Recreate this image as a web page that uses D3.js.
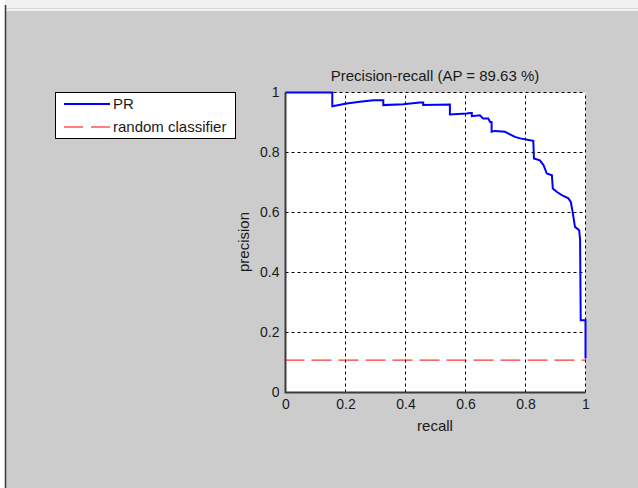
<!DOCTYPE html>
<html lang="en">
<head>
    <meta charset="UTF-8">
    <title>Precision-recall</title>
    <script src="https://cdn.jsdelivr.net/npm/d3@7"></script>
    <style>
        body{
            margin:0;
            background:#fff;
        }
        svg{
            display:block;
            font-family:"Liberation Sans", Arial, sans-serif;
        }
        .tick text{
            font-size:14px;
            fill:#1a1a1a;
        }
    </style>
</head>
<body>

<script>
    // data
    var recall = [0, 0.156, 0.156, 0.204, 0.248, 0.293, 0.326, 0.326, 0.393, 0.448, 0.459, 0.459,
                  0.548, 0.548, 0.604, 0.615, 0.621, 0.621, 0.648, 0.659, 0.676, 0.682, 0.687, 0.687,
                  0.698, 0.732, 0.753, 0.765, 0.782, 0.815, 0.826, 0.828, 0.848, 0.86, 0.871, 0.888,
                  0.891, 0.904, 0.921, 0.943, 0.951, 0.957, 0.965, 0.979, 0.982, 0.984, 1, 1];
    var precision = [1, 1, 0.954, 0.963, 0.969, 0.974, 0.974, 0.958, 0.961, 0.967, 0.967, 0.958,
                     0.96, 0.927, 0.93, 0.932, 0.932, 0.921, 0.924, 0.913, 0.913, 0.902, 0.902, 0.869,
                     0.872, 0.869, 0.858, 0.852, 0.847, 0.841, 0.839, 0.78, 0.774, 0.758, 0.73, 0.724,
                     0.68, 0.669, 0.658, 0.647, 0.635, 0.602, 0.552, 0.541, 0.508, 0.241, 0.241, 0.113];
    var randomLevel = 0.108;
    var ticks = [0, 0.2, 0.4, 0.6, 0.8, 1];
    var legendLabels = ['PR', 'random classifier'];

    var width = 638,
        height = 488;

    var svg = d3.select('body').append('svg')
        .attr('width', width)
        .attr('height', height);

    // window chrome
    svg.append('rect').attr('width', width).attr('height', height).attr('fill', '#cccccc');
    svg.append('rect').attr('width', width).attr('height', 9).attr('fill', '#f0f0f0');
    svg.append('line').attr('x1', 0).attr('x2', width).attr('y1', 8.5).attr('y2', 8.5).attr('stroke', '#d9d9d9');
    svg.append('line').attr('x1', 0).attr('x2', width).attr('y1', 10).attr('y2', 10).attr('stroke', '#ffffff').attr('stroke-width', 1.5);
    svg.append('rect').attr('width', 5).attr('height', height).attr('fill', '#ffffff');
    svg.append('line').attr('x1', 5.5).attr('x2', 5.5).attr('y1', 5).attr('y2', height)
        .attr('stroke', '#2b3d3a').attr('stroke-width', 1.5);

    var x = d3.scaleLinear().domain([0, 1]).range([285.5, 585.5]);
    var y = d3.scaleLinear().domain([0, 1]).range([392.5, 92.5]);

    // plot area
    svg.append('rect')
        .attr('x', x(0)).attr('y', y(1))
        .attr('width', x(1) - x(0)).attr('height', y(0) - y(1))
        .attr('fill', '#fff');

    // grid
    var grid = svg.append('g').attr('stroke', '#000').attr('stroke-width', 1).attr('stroke-dasharray', '3,3');
    grid.selectAll('.vg').data(ticks.slice(1)).enter().append('line')
        .attr('x1', function(d){ return Math.round(x(d)) - 0.5; })
        .attr('x2', function(d){ return Math.round(x(d)) - 0.5; })
        .attr('y1', y(0)).attr('y2', y(1));
    grid.selectAll('.hg').data(ticks.slice(1)).enter().append('line')
        .attr('y1', function(d){ return Math.round(y(d)) - 0.5; })
        .attr('y2', function(d){ return Math.round(y(d)) - 0.5; })
        .attr('x1', x(0)).attr('x2', x(1));

    // axes
    var fmt = d3.format('~g');
    var gx = svg.append('g')
        .attr('transform', 'translate(0,' + y(0) + ')')
        .call(d3.axisBottom(x).tickValues(ticks).tickFormat(fmt).tickSize(0).tickPadding(7));
    var gy = svg.append('g')
        .attr('transform', 'translate(' + x(0) + ',0)')
        .call(d3.axisLeft(y).tickValues(ticks).tickFormat(fmt).tickSize(0).tickPadding(6));
    gx.select('.domain').remove();
    gy.select('.domain').remove();

    svg.append('path')
        .attr('d', 'M' + x(0) + ',' + y(1) + 'V' + y(0) + 'H' + x(1))
        .attr('fill', 'none').attr('stroke', '#3c3c3c').attr('stroke-width', 2);

    // random classifier
    svg.append('line')
        .attr('x1', x(0) - 1).attr('x2', x(1))
        .attr('y1', y(randomLevel)).attr('y2', y(randomLevel))
        .attr('stroke', '#ff0000').attr('stroke-width', 1)
        .attr('stroke-dasharray', '20,7');

    // PR curve
    var line = d3.line()
        .x(function(d){ return x(d[0]); })
        .y(function(d){ return y(d[1]); });
    svg.append('path')
        .datum(d3.zip(recall, precision))
        .attr('d', line)
        .attr('fill', 'none')
        .attr('stroke', '#0000ff')
        .attr('stroke-width', 2)
        .attr('stroke-linejoin', 'miter');

    // labels
    svg.append('text')
        .attr('x', 435).attr('y', 81)
        .attr('text-anchor', 'middle')
        .attr('font-size', 15).attr('fill', '#1a1a1a')
        .text('Precision-recall (AP = 89.63 %)');
    svg.append('text')
        .attr('x', 435).attr('y', 431)
        .attr('text-anchor', 'middle')
        .attr('font-size', 15).attr('fill', '#1a1a1a')
        .text('recall');
    svg.append('text')
        .attr('transform', 'translate(249,242) rotate(-90)')
        .attr('text-anchor', 'middle')
        .attr('font-size', 15).attr('fill', '#1a1a1a')
        .text('precision');

    // legend
    var lg = svg.append('g');
    lg.append('rect')
        .attr('x', 55.5).attr('y', 92.5).attr('width', 180).attr('height', 46)
        .attr('fill', '#fff').attr('stroke', '#000');
    var items = lg.selectAll('.item').data(legendLabels).enter().append('g')
        .attr('transform', function(d, i){ return 'translate(0,' + (104 + i * 23) + ')'; });
    items.append('line')
        .attr('x1', 64).attr('x2', 110)
        .attr('stroke', function(d, i){ return i ? '#ff0000' : '#0000ff'; })
        .attr('stroke-width', function(d, i){ return i ? 1 : 2; })
        .attr('stroke-dasharray', function(d, i){ return i ? '19,8' : null; });
    items.append('text')
        .attr('x', 113).attr('y', 5)
        .attr('font-size', 15).attr('fill', '#1a1a1a')
        .text(function(d){ return d; });
</script>
</body>
</html>
